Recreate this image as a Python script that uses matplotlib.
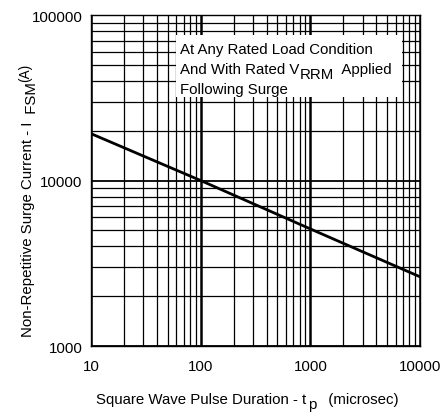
import matplotlib
matplotlib.use("Agg")
import matplotlib.pyplot as plt
from matplotlib.patches import Rectangle
from matplotlib.ticker import LogLocator, FixedLocator, NullFormatter

plt.rcParams['font.family'] = ['Liberation Sans', 'DejaVu Sans']

pulse_us = [10, 100, 1000, 10000]
surge_a = [19200, 10000, 5100, 2620]
x_ticks = [10, 100, 1000, 10000]
y_ticks = [1000, 10000, 100000]

FS = 10.8

fig = plt.figure(figsize=(4.43, 4.14), dpi=100)
ax = fig.add_axes([0.2054, 0.1618, 0.7427, 0.7995])
ax.set_xscale('log')
ax.set_yscale('log')
ax.set_xlim(10, 10000)
ax.set_ylim(1000, 100000)

ax.xaxis.set_major_locator(FixedLocator(x_ticks))
ax.yaxis.set_major_locator(FixedLocator(y_ticks))
ax.set_xticklabels([str(v) for v in x_ticks])
ax.set_yticklabels([str(v) for v in y_ticks])
ax.xaxis.set_minor_locator(LogLocator(base=10, subs=range(2, 10), numticks=20))
ax.yaxis.set_minor_locator(LogLocator(base=10, subs=range(2, 10), numticks=20))
ax.xaxis.set_minor_formatter(NullFormatter())
ax.yaxis.set_minor_formatter(NullFormatter())
ax.xaxis.grid(True, which='major', color='black', linewidth=1.8)
ax.yaxis.grid(True, which='major', color='black', linewidth=1.3)
ax.grid(which='minor', color='black', linewidth=0.9)
ax.tick_params(which='both', length=0, labelsize=FS)
ax.tick_params(axis='x', pad=9)
ax.tick_params(axis='y', pad=6)
for s in ax.spines.values():
    s.set_linewidth(1.0)

ax.plot(pulse_us, surge_a, color='black', linewidth=2.0, zorder=3)

# annotation box
ax.add_patch(Rectangle((0.258, 0.752), 0.687, 0.188, transform=ax.transAxes,
                       facecolor='white', edgecolor='none', zorder=4))
tx = 0.272
ax.text(tx, 0.885, "At Any Rated Load Condition", transform=ax.transAxes,
        ha='left', va='baseline', fontsize=FS, zorder=5)
l2 = ax.text(tx, 0.825, "And With Rated V", transform=ax.transAxes,
             ha='left', va='baseline', fontsize=FS, zorder=5)
l2b = ax.annotate("RRM", xy=(1, 0), xycoords=l2, xytext=(0, -3.6),
                  textcoords='offset points', ha='left', va='bottom',
                  fontsize=FS, zorder=5)
ax.annotate("  Applied", xy=(1, 0), xycoords=l2b, xytext=(0, 3.6),
            textcoords='offset points', ha='left', va='bottom',
            fontsize=FS, zorder=5)
ax.text(tx, 0.764, "Following Surge", transform=ax.transAxes,
        ha='left', va='baseline', fontsize=FS, zorder=5)

# x label
xl = fig.text(0.2167, 0.0242, "Square Wave Pulse Duration - t",
              ha='left', va='baseline', fontsize=FS)
xlb = fig.text(0, 0, "", fontsize=FS)
xlb = ax.annotate("p", xy=(1, 0), xycoords=xl, xytext=(1, -3.6),
                  textcoords='offset points', ha='left', va='bottom', fontsize=FS,
                  annotation_clip=False)
ax.annotate("   (microsec)", xy=(1, 0), xycoords=xlb, xytext=(0, 3.6),
            textcoords='offset points', ha='left', va='bottom', fontsize=FS,
            annotation_clip=False)

# y label
yl = fig.text(0.0722, 0.186, "Non-Repetitive Surge Current - I",
              rotation=90, rotation_mode='anchor', ha='left', va='baseline',
              fontsize=FS)
ylb = ax.annotate("  FSM", xy=(1, 1), xycoords=yl, xytext=(2.6, 0),
                  textcoords='offset points', ha='right', va='bottom',
                  rotation=90, fontsize=FS, annotation_clip=False)
ax.annotate("(A)", xy=(1, 1), xycoords=ylb, xytext=(-4.5, 0),
            textcoords='offset points', ha='right', va='bottom',
            rotation=90, fontsize=FS * 0.9, annotation_clip=False)

fig.savefig("out.png", dpi=100)
